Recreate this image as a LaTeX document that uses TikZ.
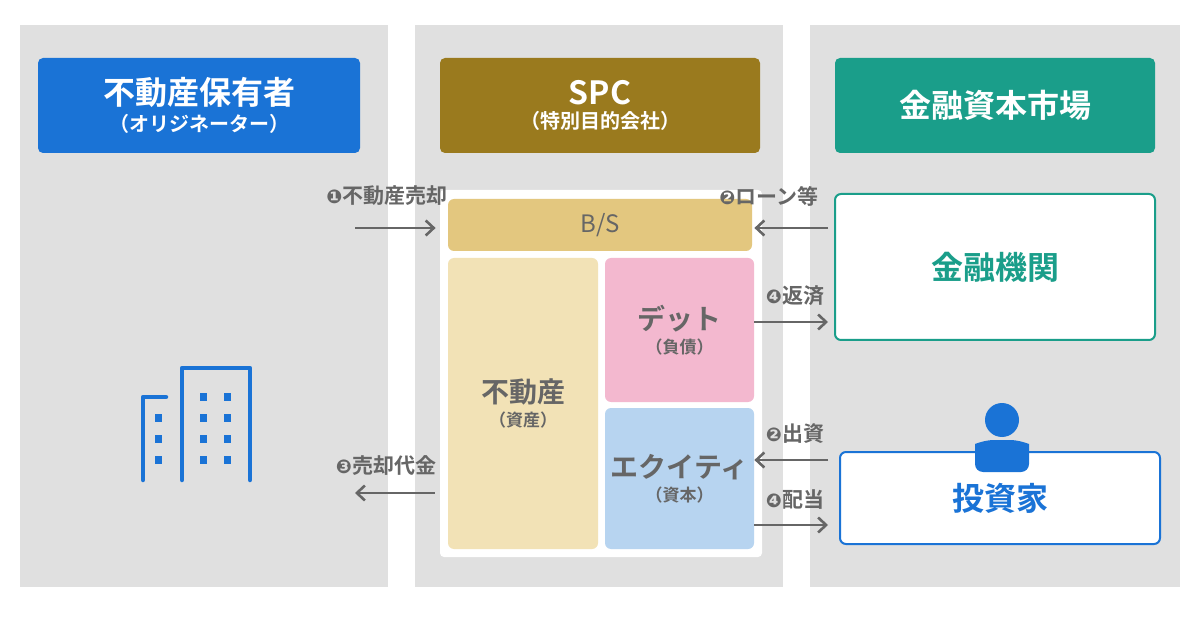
\documentclass[tikz,border=0pt]{standalone}
\usepackage{fontspec}
\setmainfont{Noto Sans CJK JP}[BoldFont={* Bold}]
\newfontfamily\dingfont{DejaVu Sans}
\usetikzlibrary{positioning,arrows.meta}
\definecolor{bgGrey}{HTML}{E0E0E0}
\definecolor{origBlue}{HTML}{1A73D6}
\definecolor{spcBrown}{HTML}{9A7A1E}
\definecolor{mktTeal}{HTML}{1A9E8A}
\definecolor{bsGold}{HTML}{E3C77F}
\definecolor{assetCream}{HTML}{F2E2B6}
\definecolor{debtPink}{HTML}{F3B8CF}
\definecolor{eqBlue}{HTML}{B7D4F0}
\definecolor{txtGrey}{HTML}{666666}
\tikzset{every picture/.style={line width=0.75pt}}
\tikzset{
  header/.style={rounded corners=5pt, text=white, font=\bfseries, align=center, inner sep=0pt},
  cell/.style={rounded corners=6pt, text=txtGrey, font=\bfseries, align=center, inner sep=0pt},
  flow/.style={draw=txtGrey, line width=2.6pt, -{Straight Barb[length=8pt,width=15pt,line width=2.6pt]}},
  flowlabel/.style={text=txtGrey, font=\bfseries\fontsize{21}{24}\selectfont, inner sep=0pt},
}
\newcommand{\cnum}[1]{{\dingfont\fontsize{19}{22}\selectfont #1}}
\begin{document}
\begin{tikzpicture}[x=1pt,y=1pt,yscale=-1]
\useasboundingbox[fill=white] (0,0) rectangle (1200,628);
%columns
\fill[bgGrey] (20,25) rectangle (388,587);
\fill[bgGrey] (415,25) rectangle (783,587);
\fill[bgGrey] (810,25) rectangle (1180,587);

%headers
\node[header, fill=origBlue, minimum width=322pt, minimum height=95pt] (orig) at (199,105.5)
  {{\fontsize{32}{36}\selectfont 不動産保有者}\\[6pt]{\fontsize{20}{24}\selectfont （オリジネーター）}};
\node[header, fill=spcBrown, minimum width=320pt, minimum height=95pt] (spc) at (600,105.5)
  {{\fontsize{32}{36}\selectfont SPC}\\[6pt]{\fontsize{20}{24}\selectfont （特別目的会社）}};
\node[header, fill=mktTeal, minimum width=320pt, minimum height=95pt] (mkt) at (995,105.5)
  {{\fontsize{32}{36}\selectfont 金融資本市場}};

%balance sheet
\fill[white, rounded corners=4pt] (440,190) rectangle (762,557);
\node[cell, fill=bsGold, minimum width=304pt, minimum height=52pt, font=\fontsize{24}{28}\selectfont] (bs) at (600,225) {B/S};
\node[cell, fill=assetCream, minimum width=150pt, minimum height=291pt] (asset) at (523,403.5)
  {{\fontsize{28}{32}\selectfont 不動産}\\[6pt]{\fontsize{17}{20}\selectfont （資産）}};
\node[cell, fill=debtPink, minimum width=149pt, minimum height=144pt] (debt) at (679.5,330)
  {{\fontsize{28}{32}\selectfont デット}\\[6pt]{\fontsize{17}{20}\selectfont （負債）}};
\node[cell, fill=eqBlue, minimum width=149pt, minimum height=141pt] (equity) at (679.5,478.5)
  {{\fontsize{28}{32}\selectfont エクイティ}\\[6pt]{\fontsize{17}{20}\selectfont （資本）}};

%market side
\node[draw=mktTeal, line width=2pt, fill=white, rounded corners=6pt, minimum width=320pt, minimum height=146pt,
  text=mktTeal, font=\bfseries\fontsize{32}{36}\selectfont] (bank) at (995,267) {金融機関};
\node[draw=origBlue, line width=2pt, fill=white, rounded corners=6pt, minimum width=320pt, minimum height=92pt,
  text=origBlue, font=\bfseries\fontsize{32}{36}\selectfont] (investor) at (1000,498) {投資家};

%person icon
\fill[origBlue] (1002,420) circle (17);
\fill[origBlue, rounded corners=8pt] (975,472) -- (975,452) .. controls (975,444) and (985,440) .. (1002,440) .. controls (1019,440) and (1029,444) .. (1029,452) -- (1029,472) -- cycle;

%building icon
\draw[origBlue, line width=4.5pt, line cap=round, line join=round] (143,480) -- (143,397) -- (166,397);
\draw[origBlue, line width=4.5pt, line cap=round, line join=round] (182,480) -- (182,368) -- (250,368) -- (250,480);
\foreach \y in {418,439,460}
  \fill[origBlue] (154.5,\y-4) rectangle +(7,8);
\foreach \x in {203,227}
  \foreach \y in {397,418,439,460}
    \fill[origBlue] (\x-3.5,\y-4) rectangle +(7,8);

%flows
\coordinate (sellL) at (355,228);
\coordinate (loanR) at (828,228);
\coordinate (repayR) at (828,322);
\coordinate (invR) at (828,460);
\coordinate (divR) at (828,525);
\coordinate (payL) at (355,493);
\draw[flow] (sellL) -- ([xshift=-12pt]bs.west |- sellL);
\draw[flow] (loanR) -- ([xshift=2pt]bs.east |- loanR);
\draw[flow] (debt.east |- repayR) -- (repayR);
\draw[flow] (invR) -- (equity.east |- invR);
\draw[flow] (equity.east |- divR) -- (divR);
\draw[flow] ([xshift=-13pt]asset.west |- payL) -- (payL);

\node[flowlabel] (l1) at (387,196) {\cnum{❶}不動産売却};
\node[flowlabel] (l2) at (769,196) {\cnum{❷}ローン等};
\node[flowlabel] (l4a) at (795,296) {\cnum{❹}返済};
\node[flowlabel] (l2b) at (795,434) {\cnum{❷}出資};
\node[flowlabel] (l4b) at (795,500) {\cnum{❹}配当};
\node[flowlabel] (l3) at (386,466) {\cnum{❸}売却代金};
\end{tikzpicture}
\end{document}
